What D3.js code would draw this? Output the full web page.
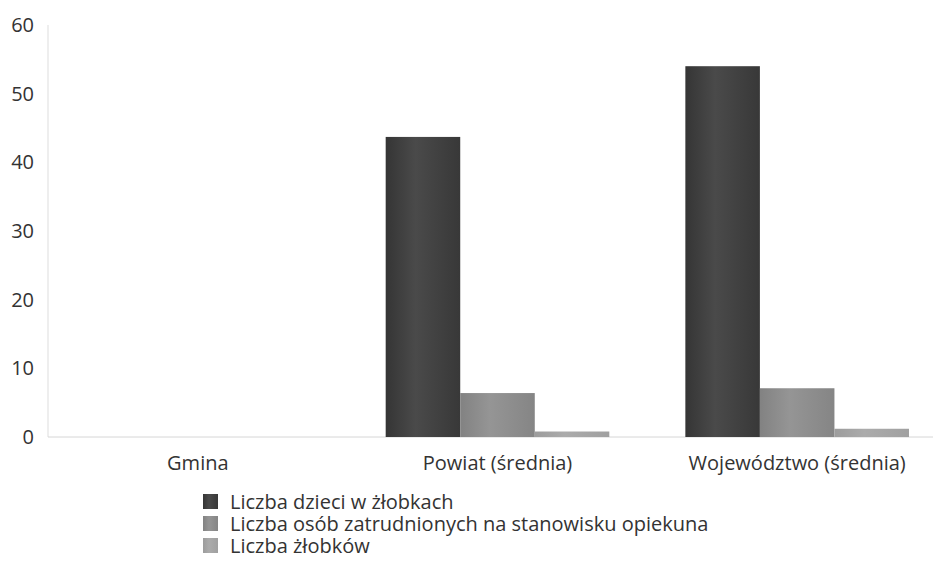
<!DOCTYPE html>
<html>
<head>
<meta charset="utf-8">
<script src="https://cdn.jsdelivr.net/npm/d3@7"></script>
<style>
  body { margin: 0; background: #fff; }
  svg text { font-family: "Open Sans", sans-serif; fill: #333; }
</style>
</head>
<body>
<div class="chart"></div>
<script>
var width = 933,
    height = 561;

var categories = ["Gmina", "Powiat (średnia)", "Województwo (średnia)"];
var series = ["Liczba dzieci w żłobkach", "Liczba osób zatrudnionych na stanowisku opiekuna", "Liczba żłobków"];
var dzieci = [0, 43.7, 54];
var opiekunowie = [0, 6.4, 7.1];
var zlobki = [0, 0.8, 1.2];
var yTicks = [0, 10, 20, 30, 40, 50, 60];

var values = [dzieci, opiekunowie, zlobki];
var colors = [["#353535", "#4a4a4a", "#383838"], ["#828282", "#959595", "#858585"], ["#9c9c9c", "#ababab", "#a0a0a0"]];

var svg = d3.select(".chart").append("svg")
    .attr("width", width)
    .attr("height", height);

var defs = svg.append("defs");
colors.forEach(function(c, i) {
  var g = defs.append("linearGradient").attr("id", "grad" + i)
      .attr("x1", "0%").attr("x2", "100%").attr("y1", "0%").attr("y2", "0%");
  g.append("stop").attr("offset", "0%").attr("stop-color", c[0]);
  g.append("stop").attr("offset", "40%").attr("stop-color", c[1]);
  g.append("stop").attr("offset", "100%").attr("stop-color", c[2]);
});

var x = d3.scaleBand().domain(categories).range([48, 947]);
var xInner = d3.scaleBand().domain(d3.range(series.length))
    .range([0, x.bandwidth()]).paddingOuter(0.51);
var y = d3.scaleLinear().domain([0, 60]).range([437, 25]);

// axis lines
svg.append("line")
    .attr("x1", 48).attr("x2", 48)
    .attr("y1", y(60)).attr("y2", y(0))
    .attr("stroke", "#ddd");
svg.append("line")
    .attr("x1", 48).attr("x2", 933)
    .attr("y1", y(0)).attr("y2", y(0))
    .attr("stroke", "#d6d6d6");

svg.append("g").selectAll("text")
    .data(yTicks)
    .enter().append("text")
    .attr("x", 34)
    .attr("y", function(d) { return y(d); })
    .attr("dy", "0.35em")
    .attr("text-anchor", "end")
    .style("font-size", "20px")
    .text(function(d) { return d; });

svg.append("g").selectAll("text")
    .data(categories)
    .enter().append("text")
    .attr("x", function(d) { return x(d) + x.bandwidth() / 2; })
    .attr("y", 470)
    .attr("text-anchor", "middle")
    .style("font-size", "20px")
    .text(function(d) { return d; });

var group = svg.append("g").selectAll("g")
    .data(categories)
    .enter().append("g")
    .attr("transform", function(d) { return "translate(" + x(d) + ",0)"; });

group.selectAll("rect")
    .data(function(d, ci) { return values.map(function(v, si) { return {s: si, v: v[ci]}; }); })
    .enter().append("rect")
    .attr("x", function(d) { return xInner(d.s); })
    .attr("width", xInner.bandwidth())
    .attr("y", function(d) { return y(d.v); })
    .attr("height", function(d) { return y(0) - y(d.v); })
    .attr("fill", function(d) { return "url(#grad" + d.s + ")"; });

var legend = svg.append("g").selectAll("g")
    .data(series)
    .enter().append("g")
    .attr("transform", function(d, i) { return "translate(203," + (494 + i * 22) + ")"; });
legend.append("rect")
    .attr("width", 15).attr("height", 15)
    .attr("fill", function(d, i) { return "url(#grad" + i + ")"; });
legend.append("text")
    .attr("x", 27).attr("y", 8)
    .attr("dy", "0.35em")
    .style("font-size", "20px")
    .text(function(d) { return d; });
</script>
</body>
</html>
